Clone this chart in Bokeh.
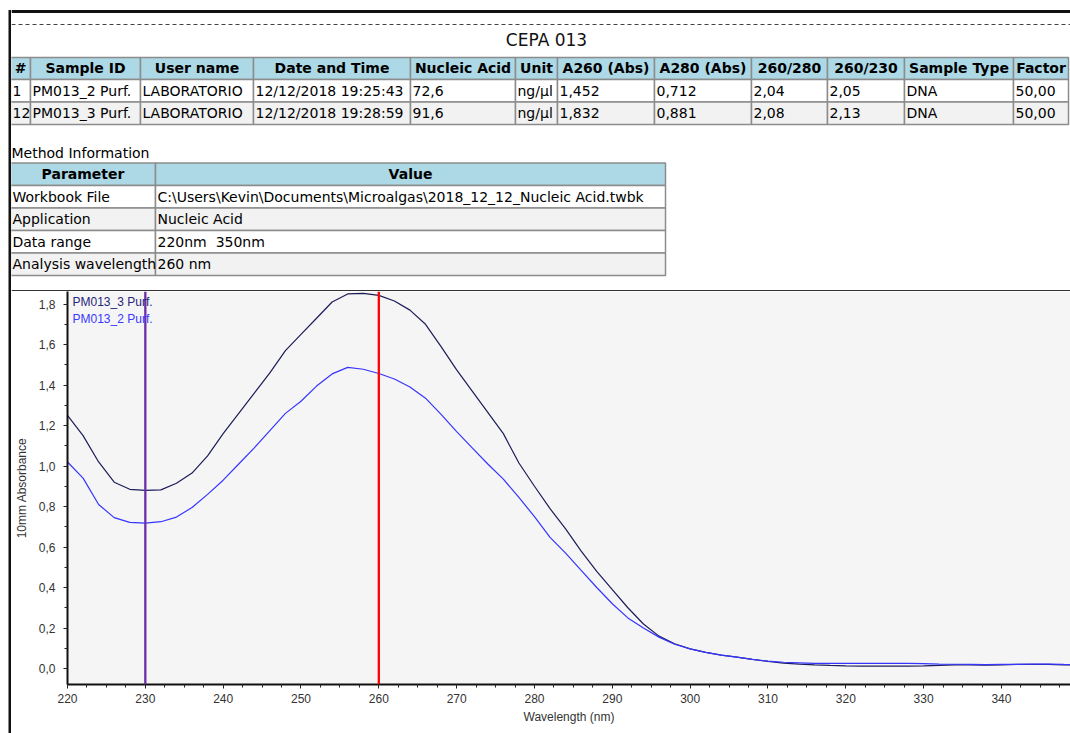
from bokeh.plotting import figure
from bokeh.layouts import column, row
from bokeh.models import Range1d, Span, Label, SingleIntervalTicker, CustomJSTickFormatter
from bokeh.core.properties import value
from bokeh.embed import file_html
from bokeh.resources import INLINE

# ---------------- data ----------------
report_title = "CEPA 013"
table_headers = ["#", "Sample ID", "User name", "Date and Time", "Nucleic Acid", "Unit",
                 "A260 (Abs)", "A280 (Abs)", "260/280", "260/230", "Sample Type", "Factor"]
sample_no = [1, 12]
sample_ids = ["PM013_2 Purf.", "PM013_3 Purf."]
user_names = ["LABORATORIO", "LABORATORIO"]
date_times = ["12/12/2018 19:25:43", "12/12/2018 19:28:59"]
nucleic_acid = [72.6, 91.6]
units = ["ng/µl", "ng/µl"]
a260 = [1.452, 1.832]
a280 = [0.712, 0.881]
ratio_260_280 = [2.04, 2.08]
ratio_260_230 = [2.05, 2.13]
sample_types = ["DNA", "DNA"]
factors = [50.00, 50.00]

method_title = "Method Information"
method_headers = ["Parameter", "Value"]
method_params = ["Workbook File", "Application", "Data range", "Analysis wavelength"]
method_values = ["C:\\Users\\Kevin\\Documents\\Microalgas\\2018_12_12_Nucleic Acid.twbk",
                 "Nucleic Acid", "220nm\u00a0 350nm", "260 nm"]

wavelength = [220, 222, 224, 226, 228, 230, 232, 234, 236, 238,
              240, 242, 244, 246, 248, 250, 252, 254, 256, 258,
              260, 262, 264, 266, 268, 270, 272, 274, 276, 278,
              280, 282, 284, 286, 288, 290, 292, 294, 296, 298,
              300, 302, 304, 306, 308, 310, 312, 314, 316, 318,
              320, 322, 324, 326, 328, 330, 332, 334, 336, 338,
              340, 342, 344, 346, 348, 350]
abs_pm013_3 = [1.25, 1.15, 1.02, 0.92, 0.885, 0.88, 0.882, 0.915, 0.965, 1.05,
               1.16, 1.26, 1.36, 1.46, 1.57, 1.65, 1.73, 1.81, 1.85, 1.853,
               1.843, 1.815, 1.77, 1.70, 1.59, 1.475, 1.37, 1.265, 1.16, 1.015,
               0.90, 0.79, 0.69, 0.58, 0.48, 0.39, 0.30, 0.22, 0.16, 0.122,
               0.097, 0.08, 0.066, 0.056, 0.045, 0.035, 0.027, 0.022, 0.018, 0.015,
               0.013, 0.012, 0.012, 0.012, 0.012, 0.013, 0.015, 0.018, 0.018, 0.017,
               0.018, 0.02, 0.02, 0.02, 0.018, 0.018]
abs_pm013_2 = [1.02, 0.94, 0.81, 0.745, 0.722, 0.718, 0.725, 0.748, 0.795, 0.86,
               0.93, 1.01, 1.09, 1.175, 1.26, 1.32, 1.395, 1.455, 1.487, 1.478,
               1.457, 1.43, 1.39, 1.335, 1.255, 1.17, 1.09, 1.01, 0.935, 0.845,
               0.75, 0.648, 0.57, 0.485, 0.40, 0.32, 0.25, 0.20, 0.155, 0.12,
               0.097, 0.08, 0.066, 0.056, 0.045, 0.036, 0.031, 0.028, 0.025, 0.025,
               0.025, 0.025, 0.025, 0.025, 0.025, 0.024, 0.022, 0.021, 0.02, 0.019,
               0.02, 0.02, 0.022, 0.022, 0.02, 0.019]
series_names = ["PM013_3 Purf.", "PM013_2 Purf."]
marker_wavelengths = [230, 260]

x_label = "Wavelength (nm)"
y_label = "10mm Absorbance"

# ---------------- styling / layout ----------------
TFONT = "DejaVu Sans"
CFONT = "Liberation Sans"
GRID = "#8c8c8c"
HEAD_FILL = "#ADD8E6"
ALT_FILL = "#F2F2F2"
SERIES_COLORS = ["#1c1c5a", "#3535ff"]
LABEL_COLORS = ["#26267a", "#3a3aff"]
MARKER_COLORS = ["#6a2fa8", "#ff0000"]

PAGE_W, PAGE_H = 1070, 733
LEFT = 11          # page x where the table/chart figures start
SPLIT = 291        # page y where the chart figure starts
CHART_END = 727    # page y where the chart figure ends
FRAME_LEFT = 67
FRAME_BOTTOM = 684

top_cols = [10, 30, 140, 253, 410, 515, 557, 654, 751, 827, 904, 1013, 1068]
top_rows = [57, 79, 101.5, 124]
meth_cols = [10, 155, 665]
meth_rows = [162.5, 185, 207.5, 230, 252.5, 275]


def fmt(v, d):
    return f"{v:.{d}f}".replace(".", ",")


def no_align(p):
    try:
        p.frame_align = False
    except Exception:
        pass


def canvas(w, h, x0, x1, y0, y1):
    p = figure(width=w, height=h, x_range=Range1d(x0, x1), y_range=Range1d(y1, y0),
               toolbar_location=None, output_backend="svg", x_axis_location=None,
               y_axis_location=None, min_border=0, outline_line_color=None,
               background_fill_color="white", border_fill_color="white")
    p.grid.visible = False
    no_align(p)
    return p


top_data = []
for i in range(len(sample_ids)):
    top_data.append([str(sample_no[i]), sample_ids[i], user_names[i], date_times[i],
                     fmt(nucleic_acid[i], 1), units[i], fmt(a260[i], 3), fmt(a280[i], 3),
                     fmt(ratio_260_280[i], 2), fmt(ratio_260_230[i], 2), sample_types[i],
                     fmt(factors[i], 2)])
meth_data = [[p_, v_] for p_, v_ in zip(method_params, method_values)]

# ---------------- left frame strip ----------------
strip = canvas(LEFT, PAGE_H, 0, LEFT, 0, PAGE_H)
strip.quad(left=[8], right=[11], top=[9.5], bottom=[PAGE_H], fill_color="#111111",
           line_color=None)

# ---------------- top (tables) figure ----------------
pa = canvas(PAGE_W - LEFT, SPLIT, LEFT, PAGE_W, 0, SPLIT)

pa.segment(x0=[LEFT], x1=[PAGE_W], y0=[11], y1=[11], line_color="#111111", line_width=3)
pa.segment(x0=[LEFT], x1=[PAGE_W], y0=[24], y1=[24], line_color="#444444", line_width=1,
           line_dash="4 3")
pa.text(x=[546], y=[39], text=[report_title], text_align="center", text_baseline="middle",
        text_font=value(TFONT), text_font_size="17px", text_color="#111111")


def draw_table(p, cols, rows, header, data):
    L, R, T, B, F = [], [], [], [], []
    for r in range(len(rows) - 1):
        fill = HEAD_FILL if r == 0 else ("white" if r % 2 == 1 else ALT_FILL)
        for c in range(len(cols) - 1):
            L.append(cols[c]); R.append(cols[c + 1])
            T.append(rows[r]); B.append(rows[r + 1]); F.append(fill)
    p.quad(left=L, right=R, top=T, bottom=B, fill_color=F, line_color=GRID, line_width=1.5)
    hx = [(cols[c] + cols[c + 1]) / 2 for c in range(len(header))]
    hy = [(rows[0] + rows[1]) / 2 - 0.5] * len(header)
    p.text(x=hx, y=hy, text=header, text_align="center", text_baseline="middle",
           text_font=value(TFONT), text_font_size="14px", text_font_style="bold",
           text_color="#000000")
    tx, ty, tt = [], [], []
    for r, rowvals in enumerate(data):
        for c, s in enumerate(rowvals):
            tx.append(cols[c] + 2)
            ty.append((rows[r + 1] + rows[r + 2]) / 2)
            tt.append(s)
    p.text(x=tx, y=ty, text=tt, text_align="left", text_baseline="middle",
           text_font=value(TFONT), text_font_size="14px", text_color="#000000")


draw_table(pa, top_cols, top_rows, table_headers, top_data)
pa.text(x=[11], y=[152.5], text=[method_title], text_align="left", text_baseline="middle",
        text_font=value(TFONT), text_font_size="14px", text_color="#000000")
draw_table(pa, meth_cols, meth_rows, method_headers, meth_data)
pa.segment(x0=[LEFT], x1=[PAGE_W], y0=[SPLIT - 0.5], y1=[SPLIT - 0.5], line_color="#333333",
           line_width=2)

# ---------------- chart figure ----------------
pb = figure(width=PAGE_W - LEFT, height=CHART_END - SPLIT,
            x_range=Range1d(220, 220 + (PAGE_W - FRAME_LEFT) / 7.783),
            y_range=Range1d(-0.079, 1.862),
            toolbar_location=None, output_backend="svg", min_border_left=FRAME_LEFT - LEFT,
            min_border_right=0, min_border_top=0, min_border_bottom=CHART_END - FRAME_BOTTOM,
            background_fill_color="#F5F5F5", border_fill_color="white",
            outline_line_color=None)
pb.grid.visible = False
no_align(pb)

for ys, col in zip([abs_pm013_3, abs_pm013_2], SERIES_COLORS):
    pb.line(wavelength, ys, line_color=col, line_width=1.2)

for wl, col in zip(marker_wavelengths, MARKER_COLORS):
    pb.add_layout(Span(location=wl, dimension="height", line_color=col, line_width=2.3))

for i, (name, col) in enumerate(zip(series_names, LABEL_COLORS)):
    pb.add_layout(Label(x=220, y=1.862, x_offset=5, y_offset=-10 - 17.5 * i, text=name,
                        text_font=CFONT, text_font_size="12px", text_color=col,
                        text_baseline="middle", text_align="left"))

pb.xaxis.ticker = SingleIntervalTicker(interval=10, num_minor_ticks=4)
pb.yaxis.ticker = SingleIntervalTicker(interval=0.2, num_minor_ticks=2)
pb.yaxis.formatter = CustomJSTickFormatter(
    code="return (Math.abs(tick) < 1e-9 ? 0 : tick).toFixed(1).replace('.', ',');")

for ax in (pb.xaxis[0], pb.yaxis[0]):
    ax.axis_line_color = "#111111"
    ax.axis_line_width = 2
    ax.major_tick_in = 0
    ax.major_tick_out = 4
    ax.minor_tick_in = 0
    ax.minor_tick_out = 3
    ax.major_tick_line_color = "#222222"
    ax.minor_tick_line_color = "#222222"
    ax.major_label_text_font = CFONT
    ax.major_label_text_font_size = "12px"
    ax.major_label_text_color = "#333333"
    ax.axis_label_text_font = CFONT
    ax.axis_label_text_font_size = "12px"
    ax.axis_label_text_font_style = "normal"
    ax.axis_label_text_color = "#333333"

pb.xaxis.axis_label = x_label
pb.yaxis.axis_label = y_label
pb.xaxis.major_label_standoff = 5
pb.xaxis.axis_label_standoff = 4
pb.yaxis.major_label_standoff = 8
pb.yaxis.axis_label_standoff = 7

# ---------------- bottom border strip ----------------
bottom = canvas(PAGE_W - LEFT, PAGE_H - CHART_END, LEFT, PAGE_W, CHART_END, PAGE_H)
bottom.segment(x0=[LEFT], x1=[PAGE_W], y0=[729], y1=[729], line_color="#555555",
               line_width=2)

layout = row(strip, column(pa, pb, bottom, spacing=0), spacing=0)
open("out.html", "w").write(file_html(layout, INLINE))
